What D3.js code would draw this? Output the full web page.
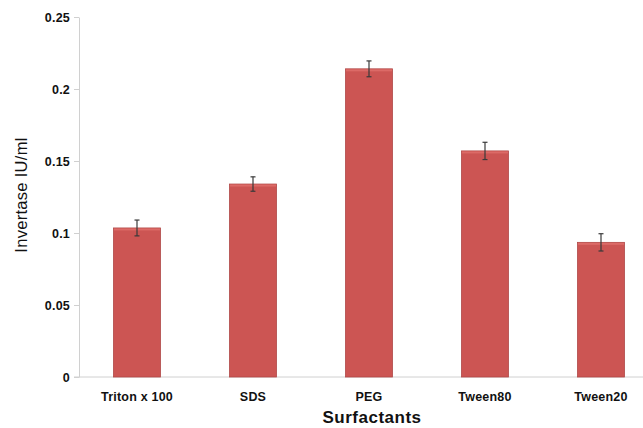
<!DOCTYPE html>
<html>
<head>
<meta charset="utf-8">
<script src="https://cdn.jsdelivr.net/npm/d3@7"></script>
<style>
  body { margin: 0; background: #fff; }
  text { font-family: "Liberation Sans", Arial, sans-serif; }
</style>
</head>
<body>
<div id="chart"></div>
<script>
// Invertase activity per surfactant
const categories = ["Triton x 100", "SDS", "PEG", "Tween80", "Tween20"];
const values = [0.1035, 0.134, 0.214, 0.157, 0.0935];
const errors = [0.0055, 0.005, 0.0055, 0.006, 0.006];
const yTicks = [0, 0.05, 0.1, 0.15, 0.2, 0.25];

const W = 643, H = 428;
const margin = { top: 17, left: 79, bottom: 51 };

const svg = d3.select("#chart").append("svg")
    .attr("width", W)
    .attr("height", H);

const x = d3.scaleBand()
    .domain(categories)
    .range([margin.left, margin.left + 580])
    .paddingInner(0.595)
    .paddingOuter(0.2975);

const y = d3.scaleLinear()
    .domain([0, 0.25])
    .range([H - margin.bottom, margin.top]);

// y axis
const yAxis = svg.append("g")
    .attr("transform", `translate(${margin.left},0)`)
    .call(d3.axisLeft(y).tickValues(yTicks).tickSize(5).tickSizeOuter(0)
        .tickFormat(d => d3.format("")(+d.toFixed(2))));
yAxis.select(".domain").attr("stroke", "#d0d0d0");
yAxis.selectAll(".tick line").attr("stroke", "#d0d0d0");
yAxis.selectAll("text")
    .attr("x", -9)
    .attr("fill", "#111")
    .style("font-size", "12.5px")
    .style("font-weight", "bold")
    .style("letter-spacing", "0.2px");

// x axis line
svg.append("line")
    .attr("x1", margin.left - 5)
    .attr("x2", W)
    .attr("y1", y(0))
    .attr("y2", y(0))
    .attr("stroke", "#d0d0d0");

// bars
svg.selectAll(".bar")
    .data(values)
    .enter().append("rect")
    .attr("class", "bar")
    .attr("x", (d, i) => x(categories[i]))
    .attr("y", d => y(d))
    .attr("width", x.bandwidth())
    .attr("height", d => y(0) - y(d))
    .attr("fill", "#cc5553")
    .attr("stroke", "#b04846")
    .attr("stroke-width", 0.8);

// lighter top edge
svg.selectAll(".bar-top")
    .data(values)
    .enter().append("rect")
    .attr("class", "bar-top")
    .attr("x", (d, i) => x(categories[i]) + 0.5)
    .attr("y", d => y(d) + 0.5)
    .attr("width", x.bandwidth() - 1)
    .attr("height", 2)
    .attr("fill", "#dc6a67");

// error bars
const err = svg.selectAll(".err")
    .data(values)
    .enter().append("g")
    .attr("class", "err")
    .attr("stroke", "#3a3a3a")
    .attr("stroke-width", 1.2);
err.append("line")
    .attr("x1", (d, i) => x(categories[i]) + x.bandwidth() / 2)
    .attr("x2", (d, i) => x(categories[i]) + x.bandwidth() / 2)
    .attr("y1", (d, i) => y(d + errors[i]))
    .attr("y2", (d, i) => y(d - errors[i]));
err.append("line")
    .attr("x1", (d, i) => x(categories[i]) + x.bandwidth() / 2 - 2.5)
    .attr("x2", (d, i) => x(categories[i]) + x.bandwidth() / 2 + 2.5)
    .attr("y1", (d, i) => y(d + errors[i]))
    .attr("y2", (d, i) => y(d + errors[i]));
err.append("line")
    .attr("x1", (d, i) => x(categories[i]) + x.bandwidth() / 2 - 2.5)
    .attr("x2", (d, i) => x(categories[i]) + x.bandwidth() / 2 + 2.5)
    .attr("y1", (d, i) => y(d - errors[i]))
    .attr("y2", (d, i) => y(d - errors[i]));

// category labels
svg.selectAll(".cat")
    .data(categories)
    .enter().append("text")
    .attr("class", "cat")
    .attr("x", d => x(d) + x.bandwidth() / 2)
    .attr("y", y(0) + 24)
    .attr("text-anchor", "middle")
    .attr("fill", "#111")
    .style("font-size", "12.5px")
    .style("font-weight", "bold")
    .style("letter-spacing", "0.2px")
    .text(d => d);

// axis titles
svg.append("text")
    .attr("x", 372)
    .attr("y", 423)
    .attr("text-anchor", "middle")
    .attr("fill", "#111")
    .style("font-size", "17px")
    .style("font-weight", "bold")
    .style("letter-spacing", "0.5px")
    .text("Surfactants");

svg.append("text")
    .attr("transform", "rotate(-90)")
    .attr("x", -195)
    .attr("y", 27)
    .attr("text-anchor", "middle")
    .attr("fill", "#111")
    .style("font-size", "16.5px")
    .style("letter-spacing", "0.3px")
    .text("Invertase IU/ml");
</script>
</body>
</html>
